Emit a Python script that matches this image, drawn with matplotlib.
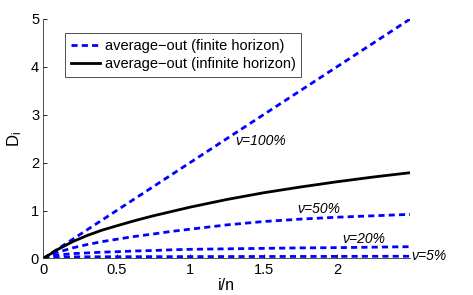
import matplotlib
matplotlib.use("Agg")
import matplotlib.pyplot as plt
import numpy as np

plt.rcParams['font.family'] = ['Liberation Sans', 'DejaVu Sans']
plt.rcParams['mathtext.default'] = 'regular'

#~~~data~~~
x_vals = [0, 0.1, 0.2, 0.3, 0.4, 0.5, 0.625, 0.75, 0.875, 1.0, 1.25, 1.5, 1.75, 2.0, 2.25, 2.5]
d_100 = [0, 0.2, 0.4, 0.6, 0.8, 1.0, 1.25, 1.5, 1.75, 2.0, 2.5, 3.0, 3.5, 4.0, 4.5, 5.0]
d_50 = [0, 0.13, 0.22, 0.29, 0.35, 0.40, 0.46, 0.51, 0.565, 0.61, 0.70, 0.77, 0.82, 0.86, 0.89, 0.92]
d_20 = [0, 0.07, 0.10, 0.115, 0.13, 0.14, 0.155, 0.165, 0.18, 0.19, 0.20, 0.21, 0.22, 0.225, 0.235, 0.245]
d_5 = [0, 0.025, 0.032, 0.034, 0.035, 0.035, 0.036, 0.037, 0.037, 0.038, 0.039, 0.04, 0.041, 0.042, 0.044, 0.045]
d_inf = [0, 0.19, 0.35, 0.48, 0.59, 0.68, 0.79, 0.89, 0.98, 1.07, 1.23, 1.37, 1.49, 1.60, 1.70, 1.79]

finite = [d_100, d_50, d_20, d_5]
labels = ['ν=100%', 'ν=50%', 'ν=20%', 'ν=5%']
label_pos = [(1.31, 2.45), (1.73, 1.04), (2.04, 0.40), (2.51, 0.05)]

fig = plt.figure(figsize=(4.73, 2.95), dpi=100)
ax = fig.add_axes([0.0915, 0.124, 0.776, 0.812])

dash = (0, (2.2, 1.5))
for i, d in enumerate(finite):
    ax.plot(x_vals, d, color='#0000ff', lw=2.0, linestyle=dash,
            label='average−out (finite horizon)' if i == 0 else None)
ax.plot(x_vals, d_inf, color='black', lw=2.0,
        label='average−out (infinite horizon)')

for lab, (tx, ty) in zip(labels, label_pos):
    ax.text(tx, ty, lab, fontsize=10, style='italic', va='center', ha='left')

ax.set_xlim(0, 2.5)
ax.set_ylim(0, 5)
ax.set_xticks([0, 0.5, 1, 1.5, 2])
ax.set_xticklabels(['0', '0.5', '1', '1.5', '2'])
ax.set_yticks([0, 1, 2, 3, 4, 5])
ax.tick_params(direction='in', length=3, labelsize=10.5, width=0.6, pad=3)
ax.spines['top'].set_visible(False)
ax.spines['right'].set_visible(False)
for s in ['left', 'bottom']:
    ax.spines[s].set_linewidth(0.6)
    ax.spines[s].set_color('#333333')

ax.set_xlabel('i/n', fontsize=11.5, labelpad=1)
ax.set_ylabel('D$_i$', fontsize=12, labelpad=5)

leg = ax.legend(loc='upper left', bbox_to_anchor=(0.06, 0.94), borderaxespad=0,
                fontsize=10.5, frameon=True, fancybox=False, handlelength=2.0,
                handletextpad=0.3, borderpad=0.4, labelspacing=0.3)
leg.get_frame().set_edgecolor('black')
leg.get_frame().set_linewidth(0.6)

fig.savefig('out.png', dpi=100)
